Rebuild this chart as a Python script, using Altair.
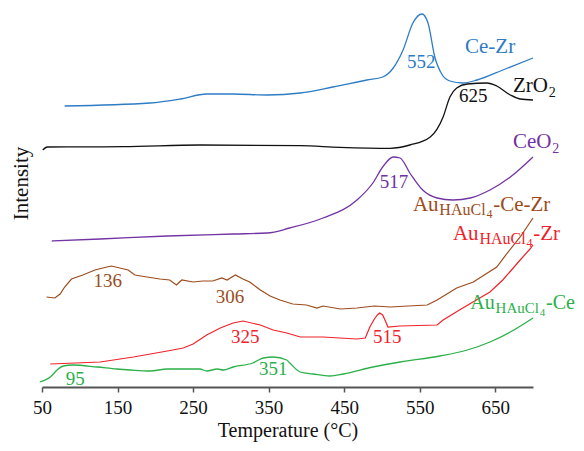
import altair as alt
import pandas as pd

FONT = "Liberation Serif"

# ---- series data (temperature in °C, intensity in arbitrary units) ----
cezr_T = [80, 193, 233, 268, 303, 348, 392, 435, 480, 501, 515, 528, 541, 553, 561, 570, 580, 590, 607, 626, 660, 700]
cezr_v = [281, 284, 288, 293, 293, 292, 294, 300, 307, 310, 319, 337, 364, 373, 364, 330, 312, 306, 304, 307, 317, 329]

zro2_T = [51, 57, 157, 259, 392, 444, 511, 537, 564, 581, 590, 599, 613, 639, 652, 670, 683, 700]
zro2_v = [237, 240, 240.3, 242, 241.3, 239.7, 238.7, 242, 250, 270, 290, 299, 303, 304, 301, 292, 288, 287]

ceo2_T = [63, 127, 216, 303, 348, 378, 422, 467, 488, 501, 515, 524, 537, 554, 573, 594, 617, 643, 670, 700]
ceo2_v = [146, 148, 151, 153, 154, 159, 169, 187, 204, 220, 230, 229, 214, 197, 189, 187, 189, 197, 210, 230]

aucezr_T = [56, 67, 74, 80, 89, 104, 120, 136, 142, 153, 164, 173, 189, 206, 219, 228, 235, 250, 263, 276,
            288, 295, 306, 316, 325, 339, 352, 365, 382, 400, 414, 422, 445, 467, 490, 511, 535, 560, 573, 599, 621, 652, 666, 683, 700]
aucezr_v = [90, 89, 93, 100, 108, 112, 117, 120, 121, 119, 117, 112, 110, 108, 107, 102, 107, 105, 106, 106,
            109, 107, 112, 108, 105, 97, 91, 87, 83, 82, 79, 81, 78, 79, 81, 80, 81, 82, 87, 99, 105, 120, 134, 150, 169]

auzr_T = [61, 127, 171, 216, 237, 250, 268, 286, 303, 316, 339, 356, 374, 392, 422, 467, 478, 484, 490, 494, 497,
          501, 504, 508, 524, 573, 581, 607, 643, 660, 683, 696, 700]
auzr_v = [23, 25, 30, 36, 39, 43, 52, 59, 64, 66, 62, 57, 54, 50, 50, 48, 49, 60, 68, 72, 74,
          72, 67, 60, 61, 62, 67, 79, 95, 107, 127, 138, 142]

auce_T = [47, 61, 70, 78, 91, 123, 149, 167, 193, 216, 259, 268, 282, 290, 303, 329, 343, 356, 374, 378,
          392, 409, 431, 449, 488, 524, 577, 613, 643, 670, 700]
auce_v = [5, 10, 17, 21, 22, 20, 18, 17, 16, 18, 18, 16, 18, 17, 20, 24, 29, 30, 27, 24,
          15, 13, 11, 13, 20, 25, 31, 37, 45, 55, 69]

smooth_series = [
    ("Ce-Zr", cezr_T, cezr_v, "#2d7cc4"),
    ("ZrO2", zro2_T, zro2_v, "#111111"),
    ("CeO2", ceo2_T, ceo2_v, "#7233a3"),
    ("Au-Ce", auce_T, auce_v, "#2bb04a"),
]
rough_series = [
    ("Au-Ce-Zr", aucezr_T, aucezr_v, "#9c4b1c"),
    ("Au-Zr", auzr_T, auzr_v, "#f0222a"),
]


def frame(series):
    rows = []
    for name, ts, vs, c in series:
        for i, (t, v) in enumerate(zip(ts, vs)):
            rows.append({"series": name, "T": t, "v": v, "order": i, "col": c})
    return pd.DataFrame(rows)


# ---- peak-temperature labels ----
lab_text = ["552", "625", "517", "136", "306", "325", "515", "95", "351"]
lab_T = [552, 621, 516, 137, 299, 319, 507, 94, 356]
lab_v = [319, 285, 199, 100, 84, 44, 44, 2, 12]
lab_col = ["#2d7cc4", "#111111", "#7233a3", "#9c4b1c", "#9c4b1c", "#f0222a", "#f0222a", "#2bb04a", "#2bb04a"]

# ---- sample-name labels: (parts, start T, baseline value, colour) ----
PX = 650 / 491  # temperature units per pixel
W = {"A": .722, "u": .5, "H": .722, "C": .667, "l": .278, "4": .5, "-": .333, "e": .444,
     "Z": .611, "r": .333, "O": .722, "2": .5}


def width(s, size):
    return sum(W[c] for c in s) * size


sample_names = [
    ([("Ce-Zr", 21, 0)], 610, 334, "#2d7cc4"),
    ([("ZrO", 21, 0), ("2", 14, 5)], 673.5, 295, "#111111"),
    ([("CeO", 21, 0), ("2", 14, 5)], 673.5, 239, "#7233a3"),
    ([("Au", 21, 0), ("HAuCl", 16, 4), ("4", 12, 7), ("-Ce-Zr", 21, 0)], 541, 176, "#9c4b1c"),
    ([("Au", 21, 0), ("HAuCl", 16, 4), ("4", 12, 7), ("-Zr", 21, 0)], 594, 147, "#f0222a"),
    ([("Au", 20, 0), ("HAuCl", 15, 4), ("4", 11, 7), ("-Ce", 20, 0)], 617, 78, "#2bb04a"),
]

nrows = []
for parts, t0, v0, col in sample_names:
    off = 0.0
    for text, size, drop in parts:
        nrows.append({"text": text, "T": t0 + off * PX, "v": v0 - drop, "size": size, "col": col})
        off += width(text, size) + 0.8

labs = pd.DataFrame({"text": lab_text, "T": lab_T, "v": lab_v, "col": lab_col})
names = pd.DataFrame(nrows)

xscale = alt.Scale(domain=[50, 700], nice=False, zero=False)
yscale = alt.Scale(domain=[0, 379], nice=False, zero=False)

xaxis = alt.Axis(values=[50, 150, 250, 350, 450, 550, 650], title="Temperature (°C)",
                 grid=False, tickSize=5, tickColor="#555555", tickWidth=1.5,
                 domainColor="#555555", domainWidth=2, labelFontSize=19, labelFont=FONT,
                 labelColor="#111111", labelPadding=6, titleFontSize=20, titleFont=FONT,
                 titleFontWeight="normal", titleColor="#111111", titlePadding=3,
                 labelFlush=False)
yaxis = alt.Axis(labels=False, ticks=False, domain=False, grid=False, title="Intensity",
                 titleFontSize=21, titleFont=FONT, titleFontWeight="normal",
                 titleColor="#111111", titlePadding=11, titleY=175)

smooth = alt.Chart(frame(smooth_series)).mark_line(strokeWidth=1.3, interpolate="monotone").encode(
    x=alt.X("T:Q", scale=xscale, axis=xaxis),
    y=alt.Y("v:Q", scale=yscale, axis=yaxis),
    color=alt.Color("col:N", scale=None),
    detail="series:N",
    order="order:Q",
)

rough = alt.Chart(frame(rough_series)).mark_line(strokeWidth=1.2, interpolate="linear").encode(
    x=alt.X("T:Q", scale=xscale),
    y=alt.Y("v:Q", scale=yscale),
    color=alt.Color("col:N", scale=None),
    detail="series:N",
    order="order:Q",
)

peaks = alt.Chart(labs).mark_text(font=FONT, fontSize=19, align="center", baseline="alphabetic").encode(
    x=alt.X("T:Q", scale=xscale),
    y=alt.Y("v:Q", scale=yscale),
    text="text:N",
    color=alt.Color("col:N", scale=None),
)

namelabels = alt.Chart(names).mark_text(font=FONT, align="left", baseline="alphabetic").encode(
    x=alt.X("T:Q", scale=xscale),
    y=alt.Y("v:Q", scale=yscale),
    text="text:N",
    size=alt.Size("size:Q", scale=None),
    color=alt.Color("col:N", scale=None),
)

chart = alt.layer(smooth, rough, peaks, namelabels).properties(
    width=491, height=379,
    autosize=alt.AutoSizeParams(type="none"),
    padding={"left": 34, "top": 0, "right": 42, "bottom": 56},
).configure_view(stroke=None)

chart.save("out.html", embed_options={"renderer": "svg", "actions": False})
